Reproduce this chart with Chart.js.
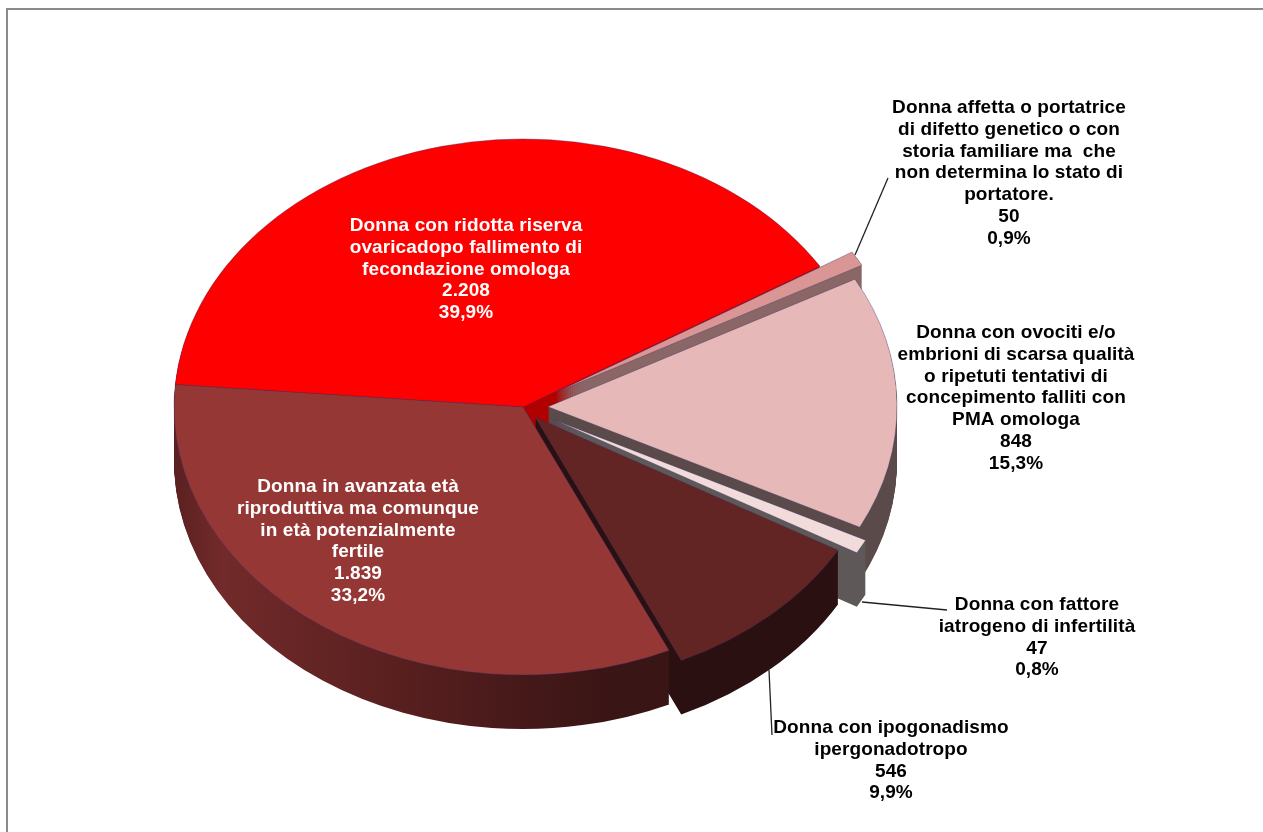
<!DOCTYPE html>
<html lang="it">
<head>
<meta charset="utf-8">
<title>Torta 3D</title>
<script src="https://cdn.jsdelivr.net/npm/chart.js@4"></script>
<style>
  html, body { margin: 0; padding: 0; background: #fff; overflow: hidden; }
  #frame { position: absolute; left: 6px; top: 8px; right: 0; bottom: 0;
           border-top: 2px solid #8a8a8a; border-left: 2px solid #8a8a8a; }
  #chart { position: absolute; left: 0; top: 0; }
</style>
</head>
<body>
<div id="frame"></div>
<canvas id="chart" width="1263" height="832"></canvas>
<script>
// Dati (in senso orario a partire dalla fetta rossa)
const categories = [
  ['Donna con ridotta riserva', 'ovaricadopo fallimento di', 'fecondazione omologa'],
  ['Donna affetta o portatrice', 'di difetto genetico o con', 'storia familiare ma  che', 'non determina lo stato di', 'portatore.'],
  ['Donna con ovociti e/o', 'embrioni di scarsa qualità', 'o ripetuti tentativi di', 'concepimento falliti con', 'PMA omologa'],
  ['Donna con fattore', 'iatrogeno di infertilità'],
  ['Donna con ipogonadismo', 'ipergonadotropo'],
  ['Donna in avanzata età', 'riproduttiva ma comunque', 'in età potenzialmente', 'fertile']
];
const values = [2208, 50, 848, 47, 546, 1839];
const valueLabels = ['2.208', '50', '848', '47', '546', '1.839'];
const percentLabels = ['39,9%', '0,9%', '15,3%', '0,8%', '9,9%', '33,2%'];

// Stile
const topColors = ['#ff0000', '#d99694', '#e6b9b8', '#f2dcdb', '#632523', '#953735'];
const wallStops = [
  [[0, '#b00000'], [1, '#b00000']],
  [[0, '#8a6666'], [1, '#8a6666']],
  [[0, '#5a4a4a'], [1, '#5a4a4a']],
  [[0, '#5f5858'], [1, '#5f5858']],
  [[0, '#2a1010'], [1, '#2a1010']],
  [[0, '#5a2020'], [0.07, '#722a2a'], [0.35, '#561e1e'], [0.62, '#3a1515'], [1, '#381414']]
];
const textColors = ['#fff', '#000', '#000', '#000', '#000', '#fff'];
const explode = [0, 37, 25, 35, 18, 0];
const drawOrder = [0, 1, 2, 3, 4, 5];
const labelX = [466, 1009, 1016, 1037, 891, 358];
const labelY = [225.5, 107.5, 332.5, 604.5, 727.5, 486.5];
const lineHeight = 21.9;
const leaders = [
  [[855, 255], [888, 178]],
  [[862, 602], [947, 610]],
  [[769, 670], [772, 735]]
];
const squash = 0.768;
const depth = 54;

const pie3d = {
  id: 'pie3d',
  beforeDatasetsDraw(chart) {
    const ctx = chart.ctx;
    const arcs = chart.getDatasetMeta(0).data;
    drawOrder.forEach(i => {
      const arc = arcs[i];
      const mid = (arc.startAngle + arc.endAngle) / 2;
      const dx = Math.cos(mid) * explode[i];
      const dy = Math.sin(mid) * explode[i];
      const grad = ctx.createLinearGradient(173, 0, 870, 0);
      wallStops[i].forEach(s => grad.addColorStop(s[0], s[1]));

      // fianco: copie dello spicchio impilate verso il basso
      const wall = Object.create(arc);
      wall.options = Object.assign({}, arc.options, { backgroundColor: grad, borderWidth: 0 });
      for (let d = depth; d >= 1; d--) {
        drawLayer(ctx, wall, dx, dy, d);
      }
      // faccia superiore
      drawLayer(ctx, arc, dx, dy, 0);
    });
    return false;
  },
  afterDraw(chart) {
    const ctx = chart.ctx;
    ctx.save();
    ctx.strokeStyle = '#222';
    ctx.lineWidth = 1.3;
    leaders.forEach(l => {
      ctx.beginPath();
      ctx.moveTo(l[0][0], l[0][1]);
      ctx.lineTo(l[1][0], l[1][1]);
      ctx.stroke();
    });
    ctx.font = 'bold 19px "Liberation Sans"';
    ctx.letterSpacing = '0.1px';
    ctx.textAlign = 'center';
    ctx.textBaseline = 'middle';
    categories.forEach((lines, i) => {
      ctx.fillStyle = textColors[i];
      lines.concat(valueLabels[i], percentLabels[i]).forEach((txt, n) => {
        ctx.fillText(txt, labelX[i], labelY[i] + n * lineHeight);
      });
    });
    ctx.restore();
  }
};

function drawLayer(ctx, arc, dx, dy, d) {
  ctx.save();
  ctx.translate(arc.x, arc.y + d);
  ctx.scale(1, squash);
  ctx.translate(-arc.x + dx, -arc.y + dy);
  arc.draw(ctx);
  ctx.restore();
}

new Chart(document.getElementById('chart'), {
  type: 'pie',
  data: {
    labels: categories.map(c => c.join(' ')),
    datasets: [{
      data: values,
      backgroundColor: topColors,
      borderColor: 'rgba(50, 45, 110, 0.4)',
      borderWidth: 1
    }]
  },
  options: {
    responsive: false,
    animation: false,
    rotation: -85.2,
    radius: 349,
    layout: { padding: { right: 217, bottom: 18 } },
    plugins: { legend: { display: false }, tooltip: { enabled: false } }
  },
  plugins: [pie3d]
});
</script>
</body>
</html>
